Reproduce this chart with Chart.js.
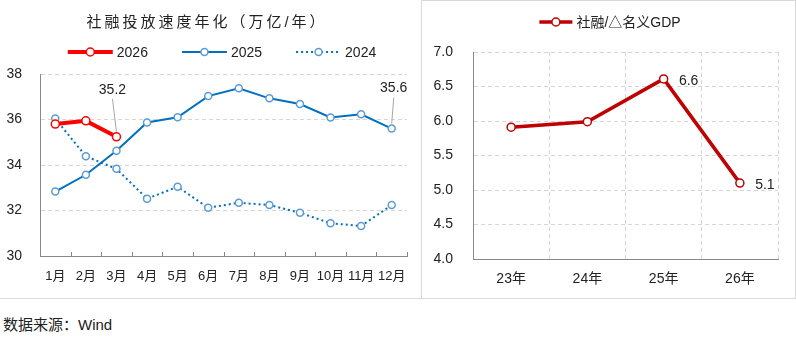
<!DOCTYPE html>
<html>
<head>
<meta charset="utf-8">
<script src="https://cdn.jsdelivr.net/npm/chart.js@4.4.1/dist/chart.umd.min.js"></script>
<style>
  html, body { margin: 0; padding: 0; background: #fff; }
  body { width: 796px; height: 339px; position: relative; overflow: hidden;
         font-family: "Liberation Sans", "Noto Sans CJK SC", sans-serif; }
  #left { position: absolute; left: 0; top: 0; }
  #right { position: absolute; left: 421px; top: 0; }
  #box { position: absolute; left: 421px; top: 0; width: 375px; height: 299px;
         border: 1px solid #d9d9d9; box-sizing: border-box; pointer-events: none; }
  #rule { position: absolute; left: 0; top: 298px; width: 421px; height: 1px; background: #d9d9d9; }
  #src { position: absolute; left: 3px; top: 313px; font-size: 15px; color: #222; }
</style>
</head>
<body>
<canvas id="left" width="421" height="298"></canvas>
<canvas id="right" width="375" height="298"></canvas>
<div id="box"></div>
<div id="rule"></div>
<div id="src">数据来源：Wind</div>
<script>
// 左图：社融投放速度年化（万亿/年）
const months = ['1月','2月','3月','4月','5月','6月','7月','8月','9月','10月','11月','12月'];
const s2026 = [35.8, 35.94, 35.24];
const s2025 = [32.83, 33.57, 34.63, 35.87, 36.1, 37.03, 37.37, 36.93, 36.68, 36.09, 36.23, 35.6];
const s2024 = [36.04, 34.38, 33.83, 32.52, 33.04, 32.12, 32.34, 32.24, 31.9, 31.44, 31.32, 32.24];
const leftTicks = [30, 32, 34, 36, 38];

// 右图：社融/△名义GDP
const years = ['23年','24年','25年','26年'];
const ratio = [5.91, 5.99, 6.61, 5.1];
const rightTicks = [4.0, 4.5, 5.0, 5.5, 6.0, 6.5, 7.0];

const FONT = '"Liberation Sans", "Noto Sans CJK SC", sans-serif';
Chart.defaults.font.family = FONT;
Chart.defaults.color = '#222';

// 标题 + 图例（线段中间带空心圆点）
const decor = {
  id: 'decor',
  afterDraw(chart, args, opts) {
    const ctx = chart.ctx;
    ctx.save();
    if (opts.title) {
      ctx.font = opts.titleFont + ' ' + FONT;
      ctx.letterSpacing = opts.titleSpacing + 'px';
      ctx.fillStyle = '#222';
      ctx.textAlign = 'center';
      ctx.textBaseline = 'middle';
      ctx.fillText(opts.title, opts.titleX, opts.titleY);
      ctx.letterSpacing = '0px';
    }
    const items = chart.data.datasets;
    ctx.font = opts.legendFont + ' ' + FONT;
    const widths = items.map(d => opts.lineLen + 4 + ctx.measureText(d.label).width);
    const total = widths.reduce((a, b) => a + b, 0) + opts.sep * (items.length - 1);
    let x = opts.legendX - total / 2;
    const y = opts.legendY;
    items.forEach((d, i) => {
      ctx.strokeStyle = d.borderColor;
      ctx.lineWidth = d.borderWidth;
      ctx.setLineDash(d.borderDash || []);
      ctx.beginPath();
      ctx.moveTo(x, y);
      ctx.lineTo(x + opts.lineLen, y);
      ctx.stroke();
      ctx.setLineDash([]);
      ctx.beginPath();
      ctx.arc(x + opts.lineLen / 2, y, d.pointRadius, 0, Math.PI * 2);
      ctx.fillStyle = '#fff';
      ctx.fill();
      ctx.lineWidth = d.pointBorderWidth;
      ctx.strokeStyle = d.pointBorderColor;
      ctx.stroke();
      ctx.fillStyle = '#222';
      ctx.textAlign = 'left';
      ctx.textBaseline = 'middle';
      ctx.fillText(d.label, x + opts.lineLen + 4, y + 1);
      x += widths[i] + opts.sep;
    });
    ctx.restore();
  }
};

// 数据标签（可带引线）
const callouts = {
  id: 'callouts',
  afterDatasetsDraw(chart, args, opts) {
    const ctx = chart.ctx;
    ctx.save();
    ctx.font = opts.font + ' ' + FONT;
    ctx.textAlign = 'center';
    ctx.textBaseline = 'middle';
    (opts.items || []).forEach(it => {
      const pt = chart.getDatasetMeta(it.ds).data[it.idx];
      const v = chart.data.datasets[it.ds].data[it.idx];
      const x = pt.x + it.dx, y = pt.y + it.dy;
      if (it.leader) {
        ctx.strokeStyle = '#a6a6a6';
        ctx.lineWidth = 1;
        ctx.beginPath();
        ctx.moveTo(x, y + 9);
        ctx.lineTo(pt.x, pt.y - 5);
        ctx.stroke();
      }
      ctx.fillStyle = '#222';
      ctx.fillText(v.toFixed(1), x, y);
    });
    ctx.restore();
  }
};

// 左图 x 轴向内的小刻度
const innerTicks = {
  id: 'innerTicks',
  afterDraw(chart) {
    const xs = chart.scales.x;
    const ctx = chart.ctx;
    ctx.save();
    ctx.strokeStyle = '#888';
    ctx.lineWidth = 1;
    ctx.beginPath();
    for (let i = 0; i <= months.length; i++) {
      const px = Math.round(xs.getPixelForValue(i - 0.5)) + 0.5;
      ctx.moveTo(px, xs.top);
      ctx.lineTo(px, xs.top - 4);
    }
    ctx.stroke();
    ctx.restore();
  }
};

new Chart(document.getElementById('left'), {
  type: 'line',
  data: {
    labels: months,
    datasets: [
      { label: '2026', data: s2026, borderColor: '#ff0000', borderWidth: 4,
        pointRadius: 4, pointBorderWidth: 1.5, pointBorderColor: '#ff0000', pointBackgroundColor: '#fff' },
      { label: '2025', data: s2025, borderColor: '#0070c0', borderWidth: 2,
        pointRadius: 3.5, pointBorderWidth: 1.5, pointBorderColor: '#5b9bd5', pointBackgroundColor: '#fff' },
      { label: '2024', data: s2024, borderColor: '#0070c0', borderWidth: 2, borderDash: [2, 3],
        pointRadius: 3.5, pointBorderWidth: 1.5, pointBorderColor: '#5b9bd5', pointBackgroundColor: '#fff' }
    ]
  },
  options: {
    responsive: false,
    animation: false,
    layout: { padding: { top: 74, right: 14, left: 0, bottom: 0 } },
    plugins: {
      legend: { display: false },
      tooltip: { enabled: false },
      decor: { title: '社融投放速度年化（万亿/年）', titleFont: '15px', titleSpacing: 3, titleX: 207, titleY: 23,
               legendFont: '14px', lineLen: 45, sep: 34, legendX: 222, legendY: 52 },
      callouts: { font: '14px', items: [
        { ds: 0, idx: 2, dx: -4, dy: -47, leader: true },
        { ds: 1, idx: 11, dx: 2, dy: -40, leader: true }
      ] }
    },
    scales: {
      x: {
        offset: true,
        grid: { display: false },
        border: { display: true, color: '#888', width: 1 },
        ticks: { font: { size: 13 }, padding: 5, maxRotation: 0, autoSkip: false },
        afterFit: s => { s.height = 42; }
      },
      y: {
        min: 30, max: 38,
        afterBuildTicks: s => { s.ticks = leftTicks.map(v => ({ value: v })); },
        grid: { color: '#d6d6d6', drawTicks: false },
        border: { display: true, color: '#888', dash: [4, 3] },
        ticks: { font: { size: 14 }, padding: 18 },
        afterFit: s => { s.width = 40; }
      }
    }
  },
  plugins: [decor, callouts, innerTicks]
});

new Chart(document.getElementById('right'), {
  type: 'line',
  data: {
    labels: years,
    datasets: [
      { label: '社融/△名义GDP', data: ratio, borderColor: '#c00000', borderWidth: 3.5,
        pointRadius: 4, pointBorderWidth: 1.5, pointBorderColor: '#c00000', pointBackgroundColor: '#fff' }
    ]
  },
  options: {
    responsive: false,
    animation: false,
    layout: { padding: { top: 52, right: 18, left: 0, bottom: 0 } },
    plugins: {
      legend: { display: false },
      tooltip: { enabled: false },
      decor: { legendFont: '14px', lineLen: 33, sep: 0, legendX: 189, legendY: 22 },
      callouts: { font: '14px', items: [
        { ds: 0, idx: 2, dx: 25, dy: 2 },
        { ds: 0, idx: 3, dx: 25, dy: 2 }
      ] }
    },
    scales: {
      x: {
        offset: true,
        grid: { display: true, color: '#d6d6d6', drawTicks: false, offset: true },
        border: { display: true, color: '#888', dash: [4, 3] },
        ticks: { font: { size: 14 }, padding: 12, maxRotation: 0 },
        afterFit: s => { s.height = 39; }
      },
      y: {
        min: 4, max: 7,
        afterBuildTicks: s => { s.ticks = rightTicks.map(v => ({ value: v })); },
        grid: { color: '#d6d6d6', drawTicks: false },
        border: { display: true, color: '#888', dash: [4, 3] },
        ticks: { font: { size: 14 }, padding: 20, callback: v => Number(v).toFixed(1) },
        afterFit: s => { s.width = 52; }
      }
    }
  },
  plugins: [decor, callouts]
});
</script>
</body>
</html>
